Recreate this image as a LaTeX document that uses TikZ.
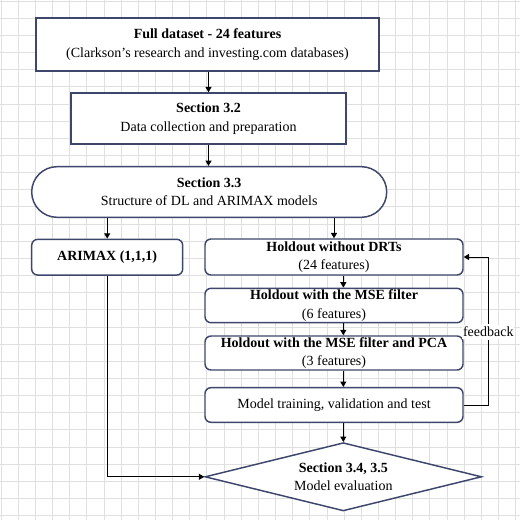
\documentclass[tikz,border=0pt]{standalone}
\usepackage{fontspec}
\setmainfont{Liberation Serif}
\usetikzlibrary{shapes.geometric,shapes.misc,arrows.meta}
\definecolor{boxline}{RGB}{62,70,108}
\definecolor{gridline}{RGB}{224,224,224}
\tikzset{
 boxbase/.style={draw=boxline, line width=1.1pt, fill=white, inner sep=0pt, align=center, font=\fontsize{10.5}{13.8}\selectfont},
 sqbox/.style={boxbase, rectangle},
 rbox/.style={boxbase, rectangle, rounded corners=4.5pt},
 pill/.style={boxbase, rounded rectangle},
 decision/.style={boxbase, diamond, aspect=4},
 conn/.style={draw=black, line width=0.75pt, -{Triangle[length=4pt,width=4.5pt]}},
 plainline/.style={draw=black, line width=0.75pt},
 fblabel/.style={fill=white, inner xsep=0.5pt, inner ysep=1.8pt, font=\fontsize{10.5}{13.8}\selectfont},
}
\begin{document}
\begin{tikzpicture}[x=0.75pt,y=-0.75pt]
\useasboundingbox (0,0) rectangle (520,520);
\fill[white] (0,0) rectangle (520,520);
\foreach \i in {0,...,30}{
  \draw[gridline, line width=0.75pt] ({1.15+17.15*\i},0) -- ({1.15+17.15*\i},520);
  \draw[gridline, line width=0.75pt] (0,{1.15+17.15*\i}) -- (520,{1.15+17.15*\i});
}
\node[sqbox, minimum width=257.25pt, minimum height=39.75pt] (b1) at (207.5,44.5)
  {\textbf{Full dataset - 24 features}\\(Clarkson's research and investing.com databases)};
\node[sqbox, minimum width=206.25pt, minimum height=38.25pt] (b2) at (208.5,118.5)
  {\textbf{Section 3.2}\\Data collection and preparation};
\node[pill, minimum width=266.25pt, minimum height=37.95pt] (b3) at (209.2,192)
  {\textbf{Section 3.3}\\Structure of DL and ARIMAX models};
\node[rbox, minimum width=113.25pt, minimum height=26.8pt] (a) at (107.2,257.2)
  {\textbf{ARIMAX (1,1,1)}};
\node[rbox, minimum width=193.5pt, minimum height=27pt] (h1) at (334,257)
  {\textbf{Holdout without DRTs}\\(24 features)};
\node[rbox, minimum width=193.5pt, minimum height=25.8pt] (h2) at (334,305.5)
  {\textbf{Holdout with the MSE filter}\\(6 features)};
\node[rbox, minimum width=193.5pt, minimum height=25.5pt] (h3) at (334,353)
  {\textbf{Holdout with the MSE filter and PCA}\\(3 features)};
\node[rbox, minimum width=193.5pt, minimum height=26pt] (m) at (334,405)
  {Model training, validation and test};
\node[decision, minimum width=207.5pt, minimum height=51.2pt] (d) at (343.3,476.8)
  {\textbf{Section 3.4, 3.5}\\Model evaluation};
\node[fblabel] (fb) at (488.3,332) {feedback};

\draw[conn] (b1.south -| b2.north) -- (b2.north);
\draw[conn] (b2.south) -- (b2.south |- b3.north);
\draw[conn] (a.north |- b3.south) -- (a.north);
\draw[conn] (h1.north |- b3.south) -- (h1.north);
\draw[conn] (h1.south -| d.north) -- (h2.north -| d.north);
\draw[conn] (h2.south -| d.north) -- (h3.north -| d.north);
\draw[conn] (h3.south -| d.north) -- (m.north -| d.north);
\draw[conn] (m.south -| d.north) -- (d.north);
\draw[conn] (a.south) |- (d.west);
\draw[plainline] (m.east) -| (fb.south);
\draw[conn] (fb.north) |- (h1.east);
\end{tikzpicture}
\end{document}
